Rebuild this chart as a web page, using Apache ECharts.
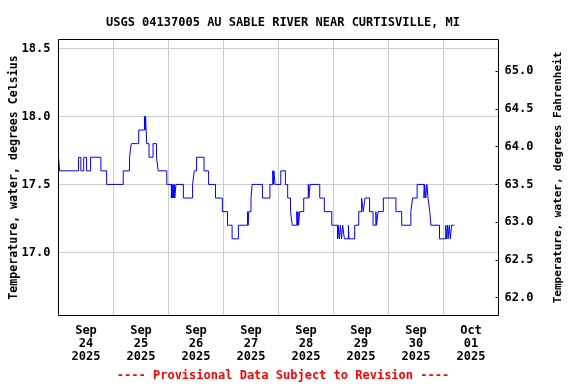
<!DOCTYPE html>
<html>
<head>
<meta charset="utf-8">
<script src="https://cdn.jsdelivr.net/npm/echarts@6/dist/echarts.min.js"></script>
<style>html,body{margin:0;padding:0;background:#fff;}#c{width:576px;height:384px;}</style>
</head>
<body>
<div id="c"></div>
<script>
const titleText = 'USGS 04137005 AU SABLE RIVER NEAR CURTISVILLE, MI';
const footerText = '---- Provisional Data Subject to Revision ----';
const leftAxisName = 'Temperature, water, degrees Celsius';
const rightAxisName = 'Temperature, water, degrees Fahrenheit';
const dayLabels = ['Sep\n24\n2025','Sep\n25\n2025','Sep\n26\n2025','Sep\n27\n2025','Sep\n28\n2025','Sep\n29\n2025','Sep\n30\n2025','Oct\n01\n2025'];
const timeStart = '2025-09-24 00:00';
const timeEnd = '2025-10-02 00:00';
const tempMinC = 16.536;
const tempMaxC = 18.566;
const times = [
'2025-09-24 00:00','2025-09-24 00:30','2025-09-24 08:45','2025-09-24 09:45','2025-09-24 11:00','2025-09-24 12:15','2025-09-24 14:00','2025-09-24 18:30','2025-09-24 21:00',
'2025-09-25 04:15','2025-09-25 07:00','2025-09-25 07:45','2025-09-25 11:00','2025-09-25 13:30','2025-09-25 13:45','2025-09-25 14:00','2025-09-25 14:15','2025-09-25 14:30','2025-09-25 15:30','2025-09-25 17:15','2025-09-25 18:45','2025-09-25 19:30','2025-09-25 23:15',
'2025-09-26 01:15','2025-09-26 01:30','2025-09-26 01:45','2025-09-26 02:00','2025-09-26 02:15','2025-09-26 02:30','2025-09-26 02:45','2025-09-26 03:15','2025-09-26 06:30','2025-09-26 10:30','2025-09-26 11:15','2025-09-26 12:15','2025-09-26 15:30','2025-09-26 17:30','2025-09-26 20:30','2025-09-26 23:30',
'2025-09-27 01:45','2025-09-27 03:45','2025-09-27 06:30','2025-09-27 10:30','2025-09-27 10:45','2025-09-27 11:00','2025-09-27 12:00','2025-09-27 12:30','2025-09-27 17:00','2025-09-27 20:15','2025-09-27 21:30','2025-09-27 21:45','2025-09-27 22:00','2025-09-27 22:30',
'2025-09-28 01:00','2025-09-28 03:00','2025-09-28 04:00','2025-09-28 05:15','2025-09-28 06:00','2025-09-28 08:00','2025-09-28 08:15','2025-09-28 08:30','2025-09-28 08:45','2025-09-28 09:15','2025-09-28 11:00','2025-09-28 13:00','2025-09-28 13:15','2025-09-28 13:45','2025-09-28 18:00','2025-09-28 20:00','2025-09-28 23:15',
'2025-09-29 01:45','2025-09-29 02:00','2025-09-29 02:30','2025-09-29 03:00','2025-09-29 03:30','2025-09-29 04:00','2025-09-29 04:45','2025-09-29 06:30','2025-09-29 06:45','2025-09-29 09:15','2025-09-29 11:00','2025-09-29 12:15','2025-09-29 13:00','2025-09-29 13:45','2025-09-29 15:45','2025-09-29 17:15','2025-09-29 18:30','2025-09-29 18:45','2025-09-29 19:30','2025-09-29 21:45',
'2025-09-30 03:15','2025-09-30 05:45','2025-09-30 09:45','2025-09-30 10:30','2025-09-30 12:30','2025-09-30 15:30','2025-09-30 15:45','2025-09-30 16:15','2025-09-30 16:45','2025-09-30 17:15','2025-09-30 18:00','2025-09-30 18:30','2025-09-30 22:15',
'2025-10-01 01:00','2025-10-01 01:15','2025-10-01 01:45','2025-10-01 02:00','2025-10-01 02:30','2025-10-01 03:00','2025-10-01 03:30','2025-10-01 04:45'
];
const tempC = [
17.7,17.6,17.7,17.6,17.7,17.6,17.7,17.6,17.5,
17.6,17.7,17.8,17.9,18.0,17.9,18.0,17.9,17.8,17.7,17.8,17.7,17.6,17.5,
17.4,17.5,17.4,17.5,17.4,17.5,17.4,17.5,17.4,17.5,17.6,17.7,17.6,17.5,17.4,17.3,
17.2,17.1,17.2,17.3,17.2,17.3,17.4,17.5,17.4,17.5,17.6,17.5,17.6,17.5,
17.6,17.5,17.4,17.3,17.2,17.3,17.2,17.3,17.2,17.3,17.4,17.5,17.4,17.5,17.4,17.3,17.2,
17.1,17.2,17.1,17.2,17.1,17.2,17.1,17.2,17.1,17.2,17.3,17.4,17.3,17.4,17.3,17.2,17.3,17.2,17.3,17.4,
17.3,17.2,17.3,17.4,17.5,17.4,17.5,17.4,17.5,17.4,17.3,17.2,17.1,
17.2,17.1,17.2,17.1,17.2,17.1,17.2,17.2
];

const FONT = 'DejaVu Sans Mono';
const chart = echarts.init(document.getElementById('c'), null, {renderer: 'canvas'});
const seriesData = times.map((t, i) => [t, tempC[i]]);
const fmt1 = v => v.toFixed(1);

chart.setOption({
  animation: false,
  backgroundColor: '#fff',
  title: [
    {text: titleText, left: 278, top: 12, textAlign: 'center',
     textStyle: {fontFamily: FONT, fontWeight: 'bold', fontSize: 12, color: '#000'}},
    {text: footerText, left: 278, top: 365, textAlign: 'center',
     textStyle: {fontFamily: FONT, fontWeight: 'bold', fontSize: 12, color: '#ff0000'}}
  ],
  grid: {left: 58.5, top: 39.5, width: 440, height: 276, show: true, borderColor: '#000', borderWidth: 1, z: 5,
         backgroundColor: 'transparent', containLabel: false, outerBoundsMode: 'none'},
  xAxis: [
    {type: 'category', data: dayLabels, boundaryGap: true, position: 'bottom',
     axisLine: {show: false}, axisTick: {show: false},
     axisLabel: {interval: 0, margin: 9, lineHeight: 12.8, fontFamily: FONT, fontWeight: 'bold', fontSize: 12, color: '#000'},
     splitLine: {show: true, interval: 0, lineStyle: {color: '#cccccc', width: 1}}},
    {type: 'time', min: timeStart, max: timeEnd, show: false}
  ],
  yAxis: [
    {type: 'value', position: 'left', min: tempMinC, max: tempMaxC, splitNumber: 4, minInterval: 0.5, maxInterval: 0.5,
     name: leftAxisName, nameLocation: 'middle', nameRotate: 90, nameGap: 39, nameMoveOverlap: false,
     nameTextStyle: {fontFamily: FONT, fontWeight: 'bold', fontSize: 11.6, color: '#000'},
     axisLine: {show: false}, axisTick: {show: false},
     axisLabel: {formatter: fmt1, showMinLabel: false, showMaxLabel: false, margin: 8, fontFamily: FONT, fontWeight: 'bold', fontSize: 12, color: '#000'},
     splitLine: {show: true, lineStyle: {color: '#cccccc', width: 1}}},
    {type: 'value', position: 'right', min: tempMinC * 1.8 + 32, max: tempMaxC * 1.8 + 32, splitNumber: 7, minInterval: 0.5, maxInterval: 0.5,
     name: rightAxisName, nameLocation: 'middle', nameRotate: 90, nameGap: 54, nameMoveOverlap: false,
     nameTextStyle: {fontFamily: FONT, fontWeight: 'bold', fontSize: 11, color: '#000'},
     axisLine: {show: false},
     axisTick: {show: true, inside: true, length: 3, lineStyle: {color: '#000'}},
     axisLabel: {formatter: fmt1, showMinLabel: false, showMaxLabel: false, margin: 6, fontFamily: FONT, fontWeight: 'bold', fontSize: 12, color: '#000'},
     splitLine: {show: false}}
  ],
  series: [
    {type: 'line', xAxisIndex: 1, yAxisIndex: 0, data: seriesData, step: 'end', showSymbol: false,
     lineStyle: {color: '#0000ff', width: 1}, silent: true}
  ]
});
</script>
</body>
</html>
